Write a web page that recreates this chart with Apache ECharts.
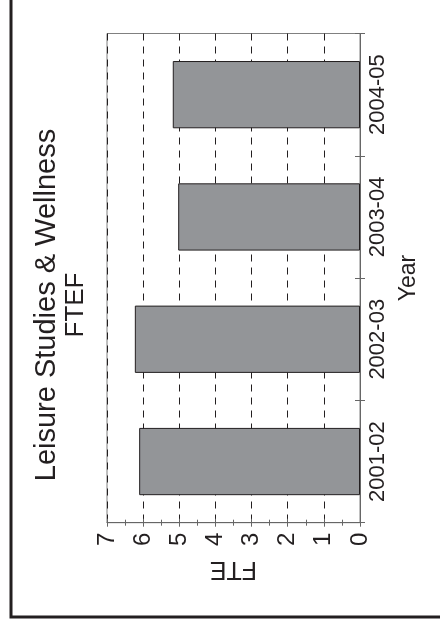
<!DOCTYPE html>
<html>
<head>
<meta charset="utf-8">
<script src="https://cdn.jsdelivr.net/npm/echarts@6/dist/echarts.min.js"></script>
<style>
html,body{margin:0;padding:0;background:#fff;}
#chart{width:440px;height:623px;}
</style>
</head>
<body>
<div id="chart"></div>
<script>
const categories = ['2001-02', '2002-03', '2003-04', '2004-05'];
const fteValues = [6.11, 6.23, 5.03, 5.18];
const valueMin = 0;
const valueMax = 7;
const valueStep = 1;
const titleLine1 = 'Leisure Studies & Wellness';
const titleLine2 = 'FTEF';
const valueAxisName = 'FTE';
const categoryAxisName = 'Year';

const FONT = '"Liberation Sans", Arial, sans-serif';
const INK = '#231f20';
const AXIS = '#666';

const chart = echarts.init(document.getElementById('chart'), null, {renderer: 'canvas'});
chart.setOption({
  animation: false,
  backgroundColor: '#fff',
  textStyle: {fontFamily: FONT, color: INK},
  grid: {left: 107, right: 80, top: 33.5, bottom: 100.3, show: true, borderColor: '#808080', borderWidth: 1},
  graphic: [
    {type: 'rect', shape: {x: 11, y: -20, width: 500, height: 637}, style: {fill: 'none', stroke: INK, lineWidth: 3}, silent: true},
    {type: 'text', x: 47, y: 305, rotation: Math.PI / 2, style: {text: titleLine1, font: '29px ' + FONT, fill: INK, align: 'center', verticalAlign: 'middle'}},
    {type: 'text', x: 76, y: 305, rotation: Math.PI / 2, style: {text: titleLine2, font: '26px ' + FONT, fill: INK, align: 'center', verticalAlign: 'middle'}}
  ],
  xAxis: [
    {
      type: 'value', inverse: true, min: valueMin, max: valueMax, interval: valueStep, position: 'bottom',
      axisLine: {show: true, lineStyle: {color: AXIS, width: 1}},
      axisTick: {show: true, length: 4, lineStyle: {color: AXIS}},
      minorTick: {show: true, splitNumber: 2, length: 3, lineStyle: {color: AXIS}},
      axisLabel: {rotate: 90, fontSize: 24, color: INK, fontFamily: FONT, margin: 10},
      splitLine: {show: true, lineStyle: {type: [7, 6], color: INK, width: 1}},
      name: valueAxisName, nameLocation: 'middle', nameRotate: 180, nameGap: 34,
      nameTextStyle: {fontSize: 25, color: INK, fontFamily: FONT}
    },
    {
      type: 'value', inverse: true, min: valueMin, max: valueMax, interval: valueStep, position: 'bottom',
      axisLine: {show: false},
      axisTick: {show: true, inside: true, length: 4, lineStyle: {color: AXIS}},
      minorTick: {show: true, splitNumber: 2, length: 3, lineStyle: {color: AXIS}},
      axisLabel: {show: false}, splitLine: {show: false}
    }
  ],
  yAxis: [
    {
      type: 'category', data: categories, position: 'right',
      axisLine: {show: true, lineStyle: {color: AXIS, width: 1}},
      axisTick: {show: true, length: 5, lineStyle: {color: AXIS}},
      axisLabel: {rotate: 90, fontSize: 22, color: INK, fontFamily: FONT, margin: 7},
      splitLine: {show: false},
      name: categoryAxisName, nameLocation: 'middle', nameRotate: 90, nameGap: 26,
      nameTextStyle: {fontSize: 23, color: INK, fontFamily: FONT}
    },
    {
      type: 'category', data: categories, position: 'right',
      axisLine: {show: false},
      axisTick: {show: true, inside: true, length: 5, lineStyle: {color: AXIS}},
      axisLabel: {show: false}, splitLine: {show: false}
    }
  ],
  series: [{
    type: 'bar', data: fteValues, xAxisIndex: 0, yAxisIndex: 0, barWidth: '55%',
    itemStyle: {color: '#939598', borderColor: INK, borderWidth: 1}
  }]
});
</script>
</body>
</html>
